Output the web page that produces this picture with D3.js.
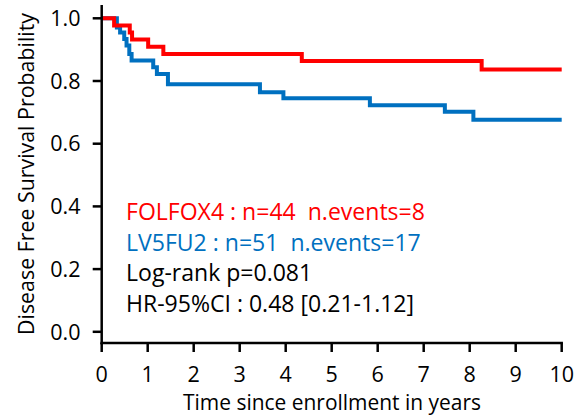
<!DOCTYPE html>
<html>
<head>
<meta charset="utf-8">
<script src="https://cdn.jsdelivr.net/npm/d3@7"></script>
<style>
  html, body { margin: 0; padding: 0; background: #fff; }
  svg { display: block; }
  text { font-family: "Open Sans", Lato, sans-serif; }
</style>
</head>
<body>
<svg id="chart" width="577" height="416"></svg>
<script>
// Kaplan-Meier disease-free survival, two treatment arms
const folfoxTimes = [0, 0.27, 0.61, 0.66, 1.01, 1.34, 4.35, 8.26, 10];
const folfoxSurv  = [1, 0.977, 0.955, 0.932, 0.909, 0.886, 0.864, 0.837, 0.837];

const lv5fu2Times = [0, 0.33, 0.40, 0.49, 0.54, 0.60, 0.65, 1.12, 1.20, 1.44, 3.44, 3.95, 5.83, 7.46, 8.08, 10];
const lv5fu2Surv  = [1, 0.971, 0.955, 0.934, 0.913, 0.886, 0.865, 0.844, 0.822, 0.790, 0.764, 0.745, 0.723, 0.702, 0.676, 0.676];

const xTicks = [0, 1, 2, 3, 4, 5, 6, 7, 8, 9, 10];
const yTicks = [0, 0.2, 0.4, 0.6, 0.8, 1.0];

const legendLines = [
  "FOLFOX4 : n=44  n.events=8",
  "LV5FU2 : n=51  n.events=17",
  "Log-rank p=0.081",
  "HR-95%CI : 0.48 [0.21-1.12]"
];
const legendColors = ["#ff0000", "#0070c0", "#000", "#000"];

const svg = d3.select("#chart");

const x = d3.scaleLinear().domain([0, 10]).range([101.7, 561.7]);
const y = d3.scaleLinear().domain([0, 1]).range([331.8, 18.3]);
const axisY = 343;      // time axis sits a little below survival 0
const axisTop = 5;

// scale a text element's font size so it spans the given width
function fitWidth(sel, width) {
  const size = parseFloat(sel.attr("font-size"));
  const w = sel.node().getComputedTextLength();
  if (w > 0) sel.attr("font-size", (size * width / w).toFixed(2));
  return parseFloat(sel.attr("font-size"));
}

// survival curves
const step = d3.line().x(d => x(d[0])).y(d => y(d[1])).curve(d3.curveStepAfter);
const series = [
  { t: lv5fu2Times, s: lv5fu2Surv, color: "#0070c0" },
  { t: folfoxTimes, s: folfoxSurv, color: "#ff0000" }
];
series.forEach(sr => {
  svg.append("path")
    .attr("d", step(d3.zip(sr.t, sr.s)))
    .attr("fill", "none")
    .attr("stroke", sr.color)
    .attr("stroke-width", 4)
    .attr("stroke-linejoin", "miter")
    .attr("stroke-linecap", "butt");
});

// axes
const axisColor = "#000";
svg.append("line")
  .attr("x1", x(0)).attr("x2", x(0))
  .attr("y1", axisTop).attr("y2", axisY + 1.25)
  .attr("stroke", axisColor).attr("stroke-width", 2.5);
svg.append("line")
  .attr("x1", x(0) - 1.25).attr("x2", x(10) + 1.25)
  .attr("y1", axisY).attr("y2", axisY)
  .attr("stroke", axisColor).attr("stroke-width", 2.5);

// x ticks and labels
const xg = svg.append("g");
xg.selectAll("line").data(xTicks).join("line")
  .attr("x1", d => x(d)).attr("x2", d => x(d))
  .attr("y1", axisY).attr("y2", axisY + 9)
  .attr("stroke", axisColor).attr("stroke-width", 2.5);
xg.selectAll("text").data(xTicks).join("text")
  .attr("x", d => x(d)).attr("y", 382)
  .attr("text-anchor", "middle")
  .attr("font-size", 21.5)
  .attr("fill", "#000")
  .text(d => d);

// y ticks and labels
const yg = svg.append("g");
yg.selectAll("line").data(yTicks).join("line")
  .attr("x1", x(0) - 9).attr("x2", x(0))
  .attr("y1", d => y(d)).attr("y2", d => y(d))
  .attr("stroke", axisColor).attr("stroke-width", 2.5);
yg.selectAll("text").data(yTicks).join("text")
  .attr("x", 80.5).attr("y", d => y(d))
  .attr("dy", "0.36em")
  .attr("text-anchor", "end")
  .attr("font-size", 21.5)
  .attr("fill", "#000")
  .text(d => d3.format(".1f")(d));

// axis titles
const xTitle = svg.append("text")
  .attr("x", 332).attr("y", 410)
  .attr("text-anchor", "middle")
  .attr("font-size", 20)
  .attr("fill", "#000")
  .text("Time since enrollment in years");
fitWidth(xTitle, 298);

const yTitle = svg.append("text")
  .attr("transform", "translate(34,174) rotate(-90)")
  .attr("text-anchor", "middle")
  .attr("font-size", 20)
  .attr("fill", "#000")
  .text("Disease Free Survival Probability");
fitWidth(yTitle, 322);

// annotation block
const notes = svg.append("g").selectAll("text").data(legendLines).join("text")
  .attr("x", 126)
  .attr("y", (d, i) => 220 + i * 30.5)
  .attr("font-size", 21)
  .attr("fill", (d, i) => legendColors[i])
  .style("white-space", "pre")
  .text(d => d);
const noteSize = fitWidth(d3.select(notes.nodes()[0]), 299);
notes.attr("font-size", noteSize);
</script>
</body>
</html>
